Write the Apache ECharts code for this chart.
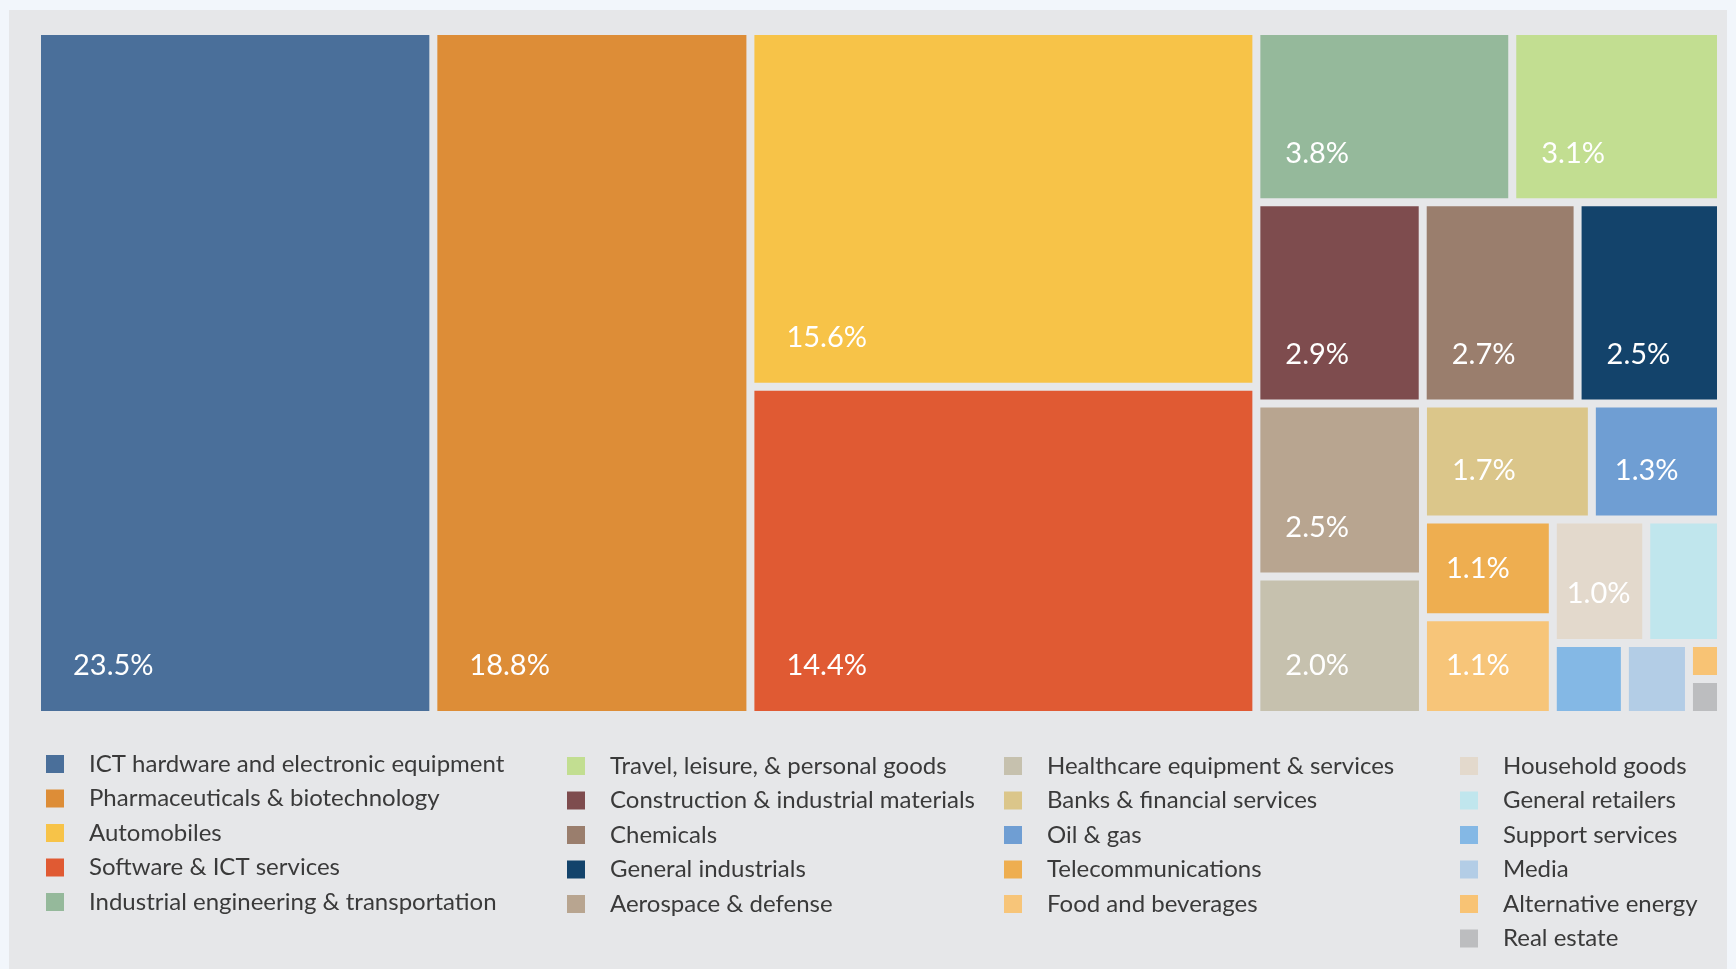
<!DOCTYPE html>
<html>
<head>
<meta charset="utf-8">
<script src="https://cdn.jsdelivr.net/npm/echarts@6/dist/echarts.min.js"></script>
<style>
html,body{margin:0;padding:0;background:#f2f6fb;}
#main{width:1736px;height:969px;}
</style>
</head>
<body>
<div id="main"></div>
<script>
// 行业名称
var sectors = [
    'ICT hardware and electronic equipment',
    'Pharmaceuticals & biotechnology',
    'Automobiles',
    'Software & ICT services',
    'Industrial engineering & transportation',
    'Travel, leisure, & personal goods',
    'Construction & industrial materials',
    'Chemicals',
    'General industrials',
    'Aerospace & defense',
    'Healthcare equipment & services',
    'Banks & financial services',
    'Oil & gas',
    'Telecommunications',
    'Food and beverages',
    'Household goods',
    'General retailers',
    'Support services',
    'Media',
    'Alternative energy',
    'Real estate'
];
// 占比 %
var shares = [23.5, 18.8, 15.6, 14.4, 3.8, 3.1, 2.9, 2.7, 2.5, 2.5, 2.0, 1.7, 1.3, 1.1, 1.1, 1.0, 0.8, 0.45, 0.4, 0.1, 0.1];
var colors = [
    '#4a6f9a', '#dd8d37', '#f7c348', '#e05a33', '#95b99b',
    '#c2de91', '#7e4c4e', '#9a7e6d', '#13436b', '#b8a590',
    '#c6c1ae', '#dbc68a', '#6f9ed3', '#eeae50', '#f7c579',
    '#e3d9cc', '#c0e6ed', '#84b8e5', '#b3cde6', '#f8c374', '#bcbdbf'
];
// 切分结构: 'h' 左右排, 'v' 上下排
var splitTree = ['h', 0, 1, ['v', 2, 3],
    ['v', ['h', 4, 5], ['h', 6, 7, 8],
        ['h', ['v', 9, 10],
            ['v', ['h', 11, 12],
                ['h', ['v', 13, 14],
                    ['v', ['h', 15, 16], ['h', 17, 18, ['v', 19, 20]]]]]]]];

var GAP = 8;

function total(node) {
    if (typeof node === 'number') return shares[node];
    var s = 0;
    for (var i = 1; i < node.length; i++) s += total(node[i]);
    return s;
}
function place(node, x, y, w, h, out) {
    if (typeof node === 'number') { out[node] = [x, y, x + w, y + h]; return; }
    var sum = total(node), pos = 0;
    for (var i = 1; i < node.length; i++) {
        var f = total(node[i]) / sum;
        if (node[0] === 'h') place(node[i], x + pos * w, y, w * f, h, out);
        else place(node[i], x, y + pos * h, w, h * f, out);
        pos += f;
    }
}
var cells = [];
place(splitTree, 0, 0, 1, 1, cells);

function renderCell(params, api) {
    var p0 = api.coord([api.value(0), api.value(1)]);
    var p1 = api.coord([api.value(2), api.value(3)]);
    var x = Math.min(p0[0], p1[0]) + GAP / 2;
    var y = Math.min(p0[1], p1[1]) + GAP / 2;
    var w = Math.abs(p1[0] - p0[0]) - GAP;
    var h = Math.abs(p1[1] - p0[1]) - GAP;
    var v = api.value(4);
    var children = [{
        type: 'rect',
        shape: {x: x, y: y, width: w, height: h},
        style: {fill: api.visual('color')}
    }];
    if (v >= 1) {
        var pad = w > 300 ? 32 : (w > 135 ? 25 : (w > 110 ? 19 : 10));
        children.push({
            type: 'text',
            style: {
                text: v.toFixed(1) + '%',
                x: x + pad, y: y + h - 45,
                verticalAlign: 'middle', align: 'left',
                fill: '#ffffff', fontSize: 29, fontFamily: 'Lato'
            }
        });
    }
    return {type: 'group', children: children};
}

var series = sectors.map(function (name, i) {
    return {
        name: name,
        type: 'custom',
        color: colors[i],
        renderItem: renderCell,
        encode: {x: [0, 2], y: [1, 3]},
        data: [[cells[i][0], cells[i][1], cells[i][2], cells[i][3], shares[i]]],
        silent: true
    };
});

var legendLeft = [41, 562, 999, 1455];
var legendTop = [747, 749, 749, 749];
var legends = [0, 1, 2, 3].map(function (c) {
    return {
        data: sectors.slice(c * 5, c === 3 ? sectors.length : c * 5 + 5),
        orient: 'vertical',
        left: legendLeft[c],
        top: legendTop[c],
        height: 215,
        icon: 'rect',
        itemWidth: 18,
        itemHeight: 18,
        itemGap: 10.5,
        selectedMode: false,
        textStyle: {fontSize: 24, lineHeight: 20, color: '#3a3a3a', fontFamily: 'Lato', padding: [0, 0, 0, 20]}
    };
});

var chart = echarts.init(document.getElementById('main'));
chart.setOption({
    backgroundColor: '#f2f6fb',
    animation: false,
    graphic: [{
        type: 'rect', z: -10,
        shape: {x: 9, y: 10, width: 1718, height: 970},
        style: {fill: '#e6e7e9'}
    }],
    grid: {left: 37, right: 15, top: 31, bottom: 254},
    xAxis: {type: 'value', min: 0, max: 1, show: false},
    yAxis: {type: 'value', min: 0, max: 1, inverse: true, show: false},
    legend: legends,
    series: series
});
</script>
</body>
</html>
